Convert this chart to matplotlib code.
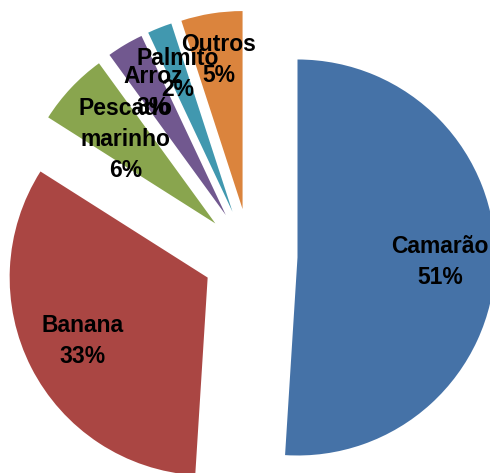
import matplotlib.pyplot as plt
import numpy as np

names = ['Camarão', 'Banana', 'Pescado\nmarinho', 'Arroz', 'Palmito', 'Outros']
shares = [51, 33, 6, 3, 2, 5]
colors = ['#4572A7', '#AA4643', '#89A54E', '#71588F', '#4198AF', '#DB843D']

fig = plt.figure(figsize=(4.9, 4.73), dpi=100)
ax = fig.add_axes([0, 0, 1, 1])

radius = 198
wedges, _ = ax.pie(shares, colors=colors, startangle=90, counterclock=False,
                   radius=radius, center=(250, 217), explode=[0.24 * radius] * len(shares),
                   wedgeprops=dict(linewidth=0))
ax.set_xlim(0, 490)
ax.set_ylim(0, 473)
ax.set_aspect('equal')
ax.axis('off')

# label distance from each slice's apex, as a fraction of the radius
label_frac = [0.72, 0.71, 0.62, 0.72, 0.75, 0.76]
for w, name, pct, f in zip(wedges, names, shares, label_frac):
    ang = np.deg2rad((w.theta1 + w.theta2) / 2)
    x = w.center[0] + f * radius * np.cos(ang)
    y = w.center[1] + f * radius * np.sin(ang)
    ax.text(x, y, f'{name}\n{pct}%', ha='center', va='center', fontsize=16.5,
            fontweight='bold', linespacing=1.45,
            family=['Liberation Sans Narrow', 'Liberation Sans', 'DejaVu Sans'])

fig.savefig('out.png', dpi=100)
